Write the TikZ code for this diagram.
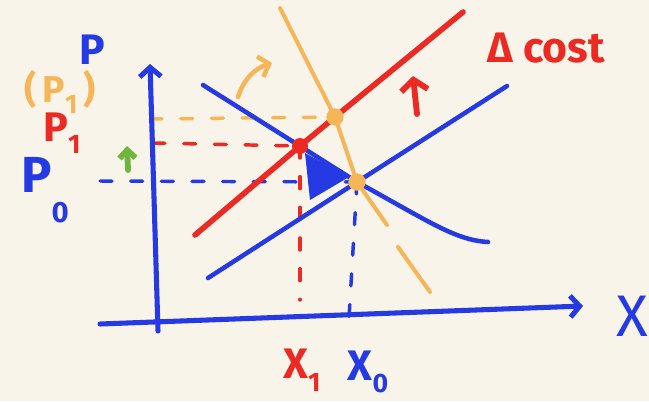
\documentclass[tikz,border=0pt]{standalone}
\usepackage{fontspec}
\setmainfont{Fira Sans}
\usetikzlibrary{arrows.meta}
\definecolor{sketchblue}{RGB}{38,58,228}
\definecolor{sketchred}{RGB}{236,42,36}
\definecolor{sketchorange}{RGB}{246,182,88}
\definecolor{sketchgreen}{RGB}{112,182,62}
\definecolor{paper}{RGB}{248,244,233}
\newcommand{\lowidx}[1]{\raisebox{-.55ex}{\fontsize{20}{20}\selectfont #1}}

\begin{document}
\begin{tikzpicture}[x=.75pt,y=-.75pt,line cap=round,line join=round,
 >={Straight Barb[length=7pt,width=16pt]},
 pen/.style={line width=3.4pt},
 axispen/.style={line width=3.8pt},
 guide/.style={line width=2.6pt,dash pattern=on 9pt off 14pt},
 hand/.style={font=\fontsize{32}{32}\selectfont\bfseries,inner sep=0pt}]
 \fill[paper] (0,0) rectangle (649,401);
 \useasboundingbox (0,0) rectangle (649,401);
 % points
 \coordinate (ybot) at (158,331);
 \coordinate (ytop) at (150,64);
 \coordinate (xleft) at (100,324);
 \coordinate (xright) at (583,306);
 \coordinate (Ezero) at (357,182);
 \coordinate (Enew) at (335,117);
 \coordinate (Eshort) at (300,146);
 % labels
 \node[hand,sketchblue] (plab) at (92,50) {P};
 \node[hand,sketchorange,font=\fontsize{28}{28}\selectfont\bfseries] (pbrack) at (60,92) {(\,P\lowidx{1}\,)};
 \node[hand,sketchred,font=\fontsize{31}{31}\selectfont\bfseries] (pone) at (62,133) {P\lowidx{1}};
 \node[hand,sketchblue,font=\fontsize{38}{38}\selectfont\bfseries] (pzero) at (45,190)
  {P\raisebox{-1.1ex}{\fontsize{22}{22}\selectfont 0}};
 \node[hand,sketchblue,font=\fontsize{44}{44}\selectfont] (xlab) at (632,316) {X};
 \node[hand,sketchred] (xone) at (302,370) {X\lowidx{1}};
 \node[hand,sketchblue] (xzero) at (368,372) {X\lowidx{0}};
 \node[hand,sketchred] (dcost) at (546,48) {Δ cost};
 % guides
 \draw[guide,sketchorange] (150,119) -- (Enew);
 \draw[guide,sketchred] (153,143) -- (Eshort);
 \draw[guide,sketchred] (Eshort) -- (300,300);
 \draw[guide,sketchblue] (100,181) -- (Ezero);
 \draw[guide,sketchblue] (Ezero) -- (349,318);
 % axes
 \draw[axispen,sketchblue,->] (ybot) -- (ytop);
 \draw[axispen,sketchblue,->] (xleft) -- (xright);
 % curves
 \draw[pen,sketchblue] (208,278) -- (Ezero) -- (507,86);
 \draw[pen,sketchblue] (203,85) -- (Ezero)
  .. controls (430,222) and (455,240) .. (488,242);
 \draw[pen,sketchred,line width=4.2pt] (195,235) -- (Eshort) -- (Enew) -- (463,12);
 \draw[pen,sketchorange,line width=3pt] (280,8) -- (Enew) -- (Ezero) -- (387,225);
 \draw[pen,sketchorange,line width=3pt] (398,247) -- (430,292);
 \fill[sketchblue] (305,153) -- (349,177) -- (310,200) -- cycle;
 % shifts
 \draw[pen,sketchorange,->] (238,97) .. controls (244,78) and (256,68) .. (272,63);
 \draw[pen,sketchred,line width=4.4pt,arrows={-Straight Barb[length=8pt,width=20pt]}] (417,114) -- (413,76);
 \draw[pen,sketchgreen,line width=4.4pt,arrows={-Straight Barb[length=6pt,width=12pt]}] (128,170) -- (127,146);
 % equilibria
 \fill[sketchred] (Eshort) circle (6pt);
 \fill[sketchorange] (Enew) circle (6.5pt);
 \fill[sketchorange] (Ezero) circle (6.5pt);
\end{tikzpicture}
\end{document}
